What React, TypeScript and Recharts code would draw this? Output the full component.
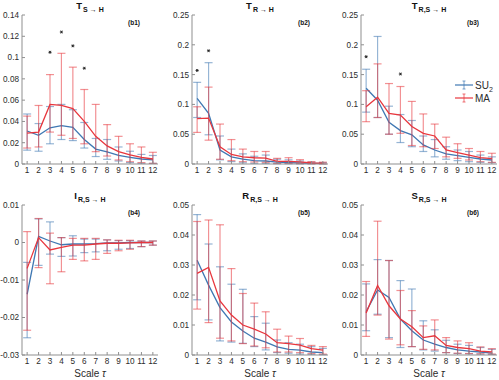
import React from "react";
import { ComposedChart, Line, ErrorBar, XAxis, YAxis, Scatter } from "recharts";

// scale tau, shared by all six panels
const tau = [1, 2, 3, 4, 5, 6, 7, 8, 9, 10, 11, 12];

// (b1) T S->H
const b1SuMean = [0.031, 0.027, 0.034, 0.036, 0.0345, 0.023, 0.014, 0.0115, 0.008, 0.0063, 0.0047, 0.0038];
const b1SuLow = [0.013, 0.012, 0.019, 0.023, 0.022, 0.015, 0.007, 0.0044, 0.0028, 0.0013, 0.0006, 0.0006];
const b1SuHigh = [0.047, 0.038, 0.054, 0.056, 0.051, 0.039, 0.024, 0.023, 0.016, 0.012, 0.009, 0.008];
const b1MaMean = [0.029, 0.03, 0.056, 0.055, 0.052, 0.04, 0.026, 0.017, 0.0116, 0.0085, 0.0063, 0.0047];
const b1MaLow = [0.015, 0.016, 0.03, 0.027, 0.024, 0.019, 0.0116, 0.0075, 0.0038, 0.0022, 0.0013, 0.0006];
const b1MaHigh = [0.045, 0.055, 0.084, 0.104, 0.091, 0.07, 0.056, 0.037, 0.026, 0.019, 0.016, 0.011];
const b1StarTau = [3, 4, 5, 6];
const b1StarVal = [0.105, 0.124, 0.111, 0.09];

// (b2) T R->H
const b2SuMean = [0.11, 0.085, 0.0235, 0.012, 0.008, 0.0056, 0.005, 0.003, 0.0022, 0.0017, 0.001, 0.001];
const b2SuLow = [0.078, 0.049, 0.007, 0.004, 0.002, 0.001, 0.001, 0.0005, 0.0005, 0.0003, 0.0002, 0.0002];
const b2SuHigh = [0.137, 0.17, 0.047, 0.025, 0.017, 0.013, 0.015, 0.008, 0.007, 0.005, 0.003, 0.0025];
const b2MaMean = [0.076, 0.077, 0.029, 0.016, 0.012, 0.0105, 0.01, 0.0045, 0.0045, 0.0034, 0.0017, 0.001];
const b2MaLow = [0.053, 0.04, 0.008, 0.0056, 0.004, 0.0034, 0.0028, 0.001, 0.001, 0.0008, 0.0004, 0.0002];
const b2MaHigh = [0.096, 0.129, 0.067, 0.041, 0.025, 0.021, 0.021, 0.0095, 0.0106, 0.0073, 0.004, 0.003];
const b2StarTau = [1, 2];
const b2StarVal = [0.157, 0.19];

// (b3) T R,S->H
const b3SuMean = [0.127, 0.107, 0.07, 0.056, 0.049, 0.032, 0.0235, 0.017, 0.014, 0.011, 0.0084, 0.0067];
const b3SuLow = [0.087, 0.078, 0.05, 0.036, 0.029, 0.021, 0.012, 0.008, 0.0056, 0.0039, 0.0028, 0.0022];
const b3SuHigh = [0.159, 0.214, 0.097, 0.083, 0.073, 0.047, 0.041, 0.029, 0.0235, 0.021, 0.015, 0.012];
const b3MaMean = [0.096, 0.112, 0.085, 0.082, 0.063, 0.0515, 0.047, 0.0235, 0.019, 0.015, 0.0106, 0.009];
const b3MaLow = [0.071, 0.078, 0.05, 0.0515, 0.031, 0.029, 0.026, 0.012, 0.0095, 0.0067, 0.0039, 0.0028];
const b3MaHigh = [0.123, 0.168, 0.135, 0.13, 0.105, 0.084, 0.067, 0.045, 0.034, 0.026, 0.021, 0.018];
const b3StarTau = [1, 4];
const b3StarVal = [0.18, 0.151];

// (b4) I R,S->H
const b4SuMean = [-0.0138, 0.0016, 0.0004, -0.0006, -0.0004, -0.0004, -0.0003, -0.0001, -0.0001, 0, 0, 0];
const b4SuLow = [-0.0254, -0.0061, -0.0031, -0.0037, -0.0036, -0.0027, -0.0025, -0.0022, -0.0018, -0.0016, -0.0011, -0.0007];
const b4SuHigh = [-0.0053, 0.0063, 0.0055, 0.0013, 0.0018, 0.0009, 0.0009, 0.0007, 0.0005, 0.0005, 0.0004, 0.0004];
const b4MaMean = [-0.0069, 0.0013, -0.002, -0.0013, -0.0007, -0.0007, -0.0004, -0.0002, -0.0002, -0.0001, 0, 0];
const b4MaLow = [-0.0234, -0.0067, -0.011, -0.0078, -0.0045, -0.0049, -0.0045, -0.0029, -0.0022, -0.0018, -0.0011, -0.0007];
const b4MaHigh = [0.0029, 0.0064, 0.0025, 0.0013, 0.0011, 0.0011, 0.0011, 0.0007, 0.0006, 0.0006, 0.0004, 0.0004];

// (b5) R R,S->H
const b5SuMean = [0.0316, 0.0233, 0.0158, 0.011, 0.008, 0.0056, 0.0043, 0.0027, 0.0019, 0.0016, 0.001, 0.0008];
const b5SuLow = [0.0184, 0.0117, 0.0047, 0.0043, 0.0039, 0.0028, 0.0017, 0.0008, 0.0006, 0.0003, 0.0002, 0.0001];
const b5SuHigh = [0.0468, 0.037, 0.0294, 0.0236, 0.0219, 0.0128, 0.0106, 0.005, 0.0041, 0.0036, 0.0028, 0.0022];
const b5MaMean = [0.0272, 0.0292, 0.018, 0.0133, 0.01, 0.0086, 0.007, 0.0041, 0.0038, 0.0033, 0.0021, 0.0016];
const b5MaLow = [0.0153, 0.0108, 0.0056, 0.0047, 0.0038, 0.003, 0.0024, 0.001, 0.001, 0.0008, 0.0005, 0.0003];
const b5MaHigh = [0.0445, 0.045, 0.0434, 0.0288, 0.0205, 0.0173, 0.0144, 0.0086, 0.0063, 0.0055, 0.0032, 0.0028];

// (b6) S R,S->H
const b6SuMean = [0.0144, 0.0217, 0.0192, 0.012, 0.0081, 0.005, 0.0036, 0.0025, 0.0017, 0.0013, 0.001, 0.0006];
const b6SuLow = [0.0081, 0.0136, 0.0058, 0.0025, 0.0028, 0.0017, 0.0013, 0.0008, 0.0005, 0.0004, 0.0003, 0.0002];
const b6SuHigh = [0.0237, 0.0318, 0.0315, 0.0248, 0.022, 0.0114, 0.0084, 0.0049, 0.0036, 0.0032, 0.0025, 0.0019];
const b6MaMean = [0.014, 0.0232, 0.0164, 0.012, 0.0094, 0.0058, 0.0064, 0.0032, 0.0025, 0.0021, 0.0013, 0.001];
const b6MaLow = [0.0062, 0.0133, 0.0053, 0.0034, 0.0028, 0.0019, 0.0017, 0.0008, 0.0006, 0.0005, 0.0004, 0.0003];
const b6MaHigh = [0.0245, 0.0446, 0.0315, 0.0215, 0.0148, 0.0097, 0.0117, 0.0058, 0.0047, 0.0041, 0.0027, 0.0021];

// y ticks
const ticksB1 = [0, 0.02, 0.04, 0.06, 0.08, 0.1, 0.12, 0.14];
const ticksB23 = [0, 0.05, 0.1, 0.15, 0.2, 0.25];
const ticksB4 = [-0.03, -0.02, -0.01, 0, 0.01];
const ticksB56 = [0, 0.01, 0.02, 0.03, 0.04, 0.05];

const BLUE = "#3f78b3";
const RED = "#e8363d";
const AXIS = "#8f8f8f";
const TEXT = "#2b2b2b";
const FONT = '"Liberation Sans", Arial, Helvetica, sans-serif';

const buildRows = (
  suMean: number[], suLow: number[], suHigh: number[],
  maMean: number[], maLow: number[], maHigh: number[]
) =>
  tau.map((t, i) => ({
    tau: t,
    su: suMean[i],
    suErr: [suMean[i] - suLow[i], suHigh[i] - suMean[i]],
    ma: maMean[i],
    maErr: [maMean[i] - maLow[i], maHigh[i] - maMean[i]],
  }));

const buildStars = (taus: number[], vals: number[]) =>
  taus.map((t, i) => ({ tau: t, star: vals[i] }));

const fmt = (v: number) => String(Number(v.toFixed(3)));

const Star = (props: any) => {
  const { cx, cy } = props;
  const r = 1.6;
  return (
    <g stroke="#222" strokeWidth={0.9}>
      <line x1={cx - r} y1={cy} x2={cx + r} y2={cy} />
      <line x1={cx - r * 0.5} y1={cy - r * 0.87} x2={cx + r * 0.5} y2={cy + r * 0.87} />
      <line x1={cx - r * 0.5} y1={cy + r * 0.87} x2={cx + r * 0.5} y2={cy - r * 0.87} />
    </g>
  );
};

const PLOT_W = 136;
const Y_W = 30;
const TOP_PAD = 16;
const TICK_FS = 8.2;

type PanelProps = {
  left: number;
  top: number;
  plotH: number;
  rows: any[];
  stars?: { tau: number; star: number }[];
  domain: [number, number];
  ticks: number[];
  main: string;
  sub: string;
  tag: string;
  xLabel?: boolean;
};

const Panel = ({ left, top, plotH, rows, stars, domain, ticks, main, sub, tag, xLabel }: PanelProps) => {
  const axisH = 18;
  const w = Y_W + PLOT_W + 3;
  const h = TOP_PAD + plotH + axisH;
  return (
    <>
      <div
        style={{
          position: "absolute", left, top: top - 14, width: PLOT_W, textAlign: "center",
          fontFamily: FONT, fontWeight: "bold", fontSize: 9.5, lineHeight: "10px", color: "#111",
        }}
      >
        {main}
        <span style={{ fontSize: 7, position: "relative", top: 2.5, marginLeft: 1 }}>{sub}</span>
      </div>
      <div
        style={{
          position: "absolute", left: left + PLOT_W - 18 - 20, top: top + 4, width: 20, textAlign: "right",
          fontFamily: FONT, fontWeight: "bold", fontSize: 6.5, lineHeight: "8px", color: "#111",
        }}
      >
        {tag}
      </div>
      <div style={{ position: "absolute", left: left - Y_W, top: top - TOP_PAD, width: w, height: h }}>
        <ComposedChart
          width={w}
          height={h}
          data={rows}
          margin={{ top: TOP_PAD, right: 3, bottom: 0, left: 0 }}
          style={{ fontFamily: FONT }}
        >
          <XAxis
            dataKey="tau"
            type="number"
            domain={[0.55, 12.45]}
            ticks={tau}
            interval={0}
            allowDataOverflow
            tickSize={-3}
            tickMargin={6}
            height={axisH}
            stroke={AXIS}
            tick={{ fill: TEXT, fontSize: TICK_FS }}
          />
          <XAxis
            xAxisId="top"
            orientation="top"
            dataKey="tau"
            type="number"
            domain={[0.55, 12.45]}
            ticks={tau}
            interval={0}
            allowDataOverflow
            tickSize={-3}
            height={0}
            stroke={AXIS}
            tickFormatter={() => ""}
          />
          <YAxis
            type="number"
            domain={domain}
            ticks={ticks}
            interval={0}
            allowDataOverflow
            width={Y_W}
            tickSize={-3}
            tickMargin={6}
            stroke={AXIS}
            tick={{ fill: TEXT, fontSize: TICK_FS }}
            tickFormatter={fmt}
          />
          <YAxis
            yAxisId="right"
            orientation="right"
            type="number"
            domain={domain}
            ticks={ticks}
            interval={0}
            allowDataOverflow
            width={0}
            tickSize={-3}
            stroke={AXIS}
            tickFormatter={() => ""}
          />
          <Line dataKey="su" stroke={BLUE} strokeWidth={1.3} dot={false} isAnimationActive={false}>
            <ErrorBar dataKey="suErr" width={4} stroke={BLUE} strokeOpacity={0.55} strokeWidth={1.2} direction="y" />
          </Line>
          <Line dataKey="ma" stroke={RED} strokeWidth={1.3} dot={false} isAnimationActive={false}>
            <ErrorBar dataKey="maErr" width={4} stroke={RED} strokeOpacity={0.55} strokeWidth={1.2} direction="y" />
          </Line>
          {stars && (
            <Scatter data={stars} dataKey="star" shape={Star} isAnimationActive={false} />
          )}
        </ComposedChart>
      </div>
      {xLabel && (
        <div
          style={{
            position: "absolute", left, top: top + plotH + 13, width: PLOT_W, textAlign: "center",
            fontFamily: FONT, fontSize: 10, lineHeight: "12px", color: TEXT,
          }}
        >
          Scale <i>τ</i>
        </div>
      )}
    </>
  );
};

const LegendItem = ({ color, y, children }: { color: string; y: number; children: React.ReactNode }) => (
  <div style={{ position: "absolute", left: 455, top: y - 6, height: 12, display: "flex", alignItems: "center" }}>
    <svg width={18} height={12}>
      <line x1={0} y1={6} x2={18} y2={6} stroke={color} strokeWidth={1.2} />
      <line x1={9} y1={2} x2={9} y2={10} stroke={color} strokeWidth={1} strokeOpacity={0.7} />
      <line x1={7.5} y1={2} x2={10.5} y2={2} stroke={color} strokeWidth={1} strokeOpacity={0.7} />
      <line x1={7.5} y1={10} x2={10.5} y2={10} stroke={color} strokeWidth={1} strokeOpacity={0.7} />
    </svg>
    <span style={{ fontFamily: FONT, fontSize: 10, color: TEXT, marginLeft: 2 }}>{children}</span>
  </div>
);

const COLS = [22, 192, 361];
const ROWS = [15, 205];

export default function App() {
  return (
    <div style={{ position: "absolute", left: 0, top: 0, width: 499, height: 380, background: "#fff", overflow: "hidden" }}>
      <Panel left={COLS[0]} top={ROWS[0]} plotH={149} domain={[0, 0.14]} ticks={ticksB1}
        rows={buildRows(b1SuMean, b1SuLow, b1SuHigh, b1MaMean, b1MaLow, b1MaHigh)}
        stars={buildStars(b1StarTau, b1StarVal)} main="T" sub="S → H" tag="(b1)" />
      <Panel left={COLS[1]} top={ROWS[0]} plotH={149} domain={[0, 0.25]} ticks={ticksB23}
        rows={buildRows(b2SuMean, b2SuLow, b2SuHigh, b2MaMean, b2MaLow, b2MaHigh)}
        stars={buildStars(b2StarTau, b2StarVal)} main="T" sub="R → H" tag="(b2)" />
      <Panel left={COLS[2]} top={ROWS[0]} plotH={149} domain={[0, 0.25]} ticks={ticksB23}
        rows={buildRows(b3SuMean, b3SuLow, b3SuHigh, b3MaMean, b3MaLow, b3MaHigh)}
        stars={buildStars(b3StarTau, b3StarVal)} main="T" sub="R,S → H" tag="(b3)" />
      <Panel left={COLS[0]} top={ROWS[1]} plotH={150} domain={[-0.03, 0.01]} ticks={ticksB4}
        rows={buildRows(b4SuMean, b4SuLow, b4SuHigh, b4MaMean, b4MaLow, b4MaHigh)}
        main="I" sub="R,S → H" tag="(b4)" xLabel />
      <Panel left={COLS[1]} top={ROWS[1]} plotH={150} domain={[0, 0.05]} ticks={ticksB56}
        rows={buildRows(b5SuMean, b5SuLow, b5SuHigh, b5MaMean, b5MaLow, b5MaHigh)}
        main="R" sub="R,S → H" tag="(b5)" xLabel />
      <Panel left={COLS[2]} top={ROWS[1]} plotH={150} domain={[0, 0.05]} ticks={ticksB56}
        rows={buildRows(b6SuMean, b6SuLow, b6SuHigh, b6MaMean, b6MaLow, b6MaHigh)}
        main="S" sub="R,S → H" tag="(b6)" xLabel />
      <LegendItem color={BLUE} y={85}>
        SU<sub style={{ fontSize: 7, verticalAlign: "sub", lineHeight: 0 }}>2</sub>
      </LegendItem>
      <LegendItem color={RED} y={98}>MA</LegendItem>
    </div>
  );
}
